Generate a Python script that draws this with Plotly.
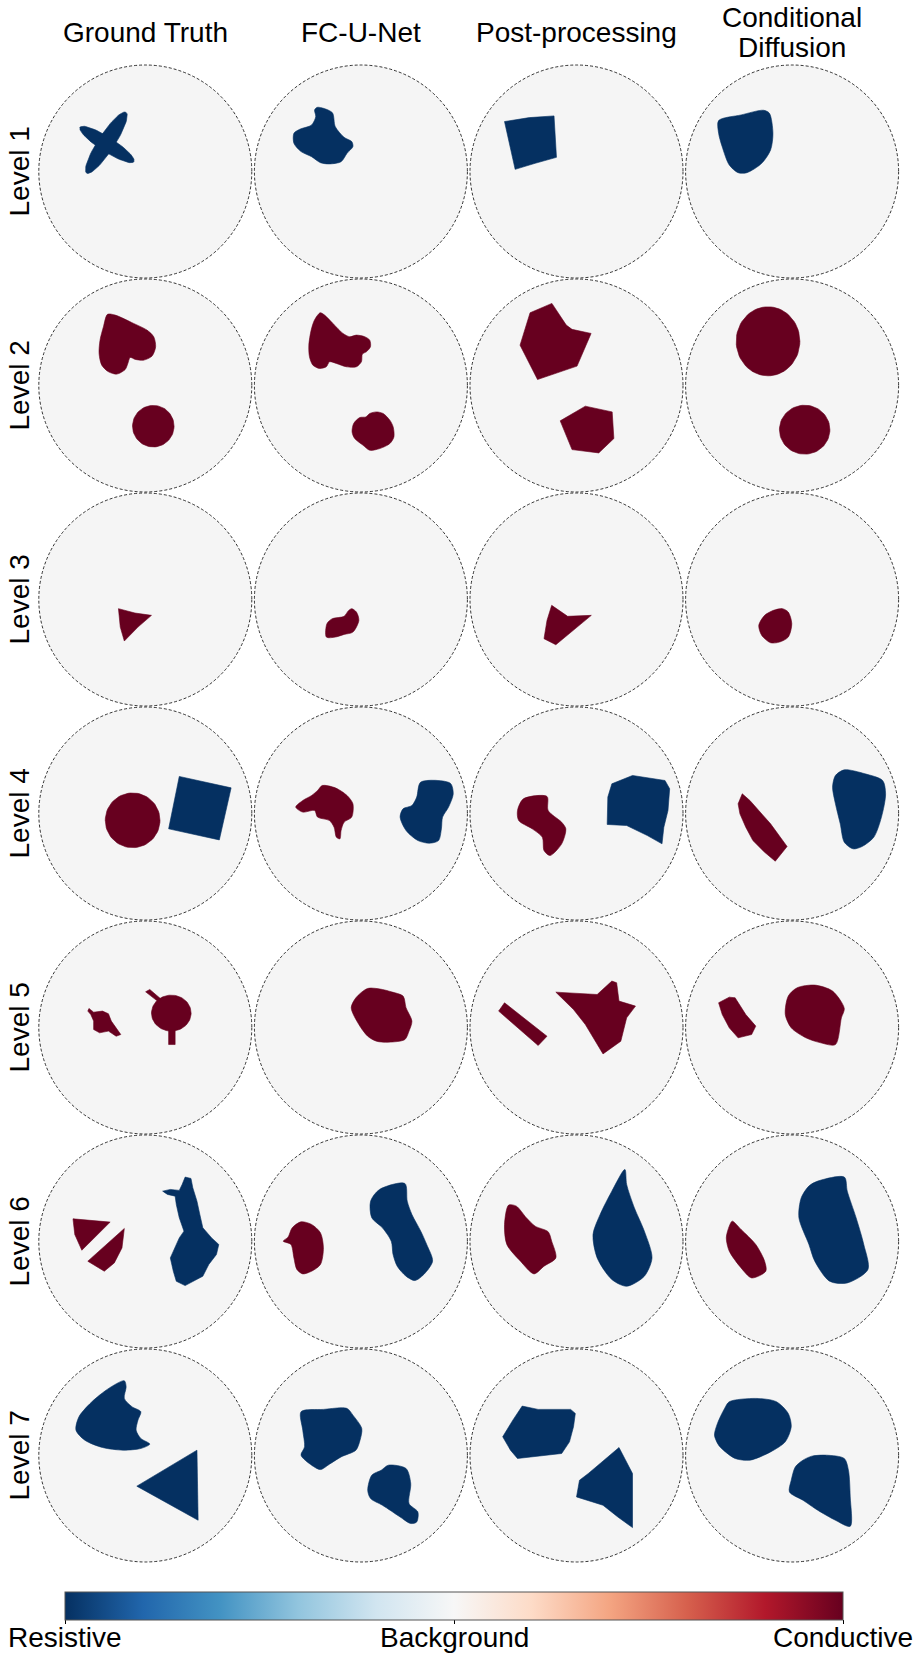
import numpy as np
import plotly.graph_objects as go

# ---------------- data ----------------
methods = ["Ground Truth", "FC-U-Net", "Post-processing", "Conditional<br>Diffusion"]
levels = ["Level 1", "Level 2", "Level 3", "Level 4", "Level 5", "Level 6", "Level 7"]
cbar_values = [-1, 0, 1]
cbar_labels = ["Resistive", "Background", "Conductive"]
RDBU_R = ["#053061", "#2166ac", "#4393c3", "#92c5de", "#d1e5f0", "#f7f7f7",
          "#fddbc7", "#f4a582", "#d6604d", "#b2182b", "#67001f"]
BACKGROUND = "#f5f5f5"

# inclusions in unit-disk coordinates:
#   ("poly", value, [(u, v), ...])   straight-edged outline
#   ("blob", value, [(u, v), ...])   smooth outline
#   ("ellipse", value, (cu, cv, a, b, angle_deg))
# value -1 = resistive, +1 = conductive
L1_GT = [("ellipse", -1, (-0.36, 0.254, 0.30, 0.068, -32.6)),
         ("ellipse", -1, (-0.366, 0.27, 0.34, 0.078, 57))]
L1_FCU = [("blob", -1, [(-0.407, 0.603), (-0.269, 0.553), (-0.241, 0.422), (-0.158, 0.321), (-0.086, 0.281),
                        (-0.075, 0.234), (-0.130, 0.171), (-0.186, 0.092), (-0.296, 0.071), (-0.380, 0.083),
                        (-0.463, 0.139), (-0.562, 0.187), (-0.629, 0.265), (-0.629, 0.359), (-0.573, 0.397),
                        (-0.463, 0.437), (-0.424, 0.516), (-0.435, 0.578)])]
L1_PP = [("poly", -1, [(-0.676, 0.469), (-0.443, 0.506), (-0.211, 0.522), (-0.188, 0.133), (-0.388, 0.077),
                       (-0.576, 0.020)])]
L1_CD = [("blob", -1, [(-0.690, 0.478), (-0.479, 0.531), (-0.269, 0.575), (-0.213, 0.547), (-0.180, 0.359),
                       (-0.202, 0.202), (-0.285, 0.077), (-0.424, -0.011), (-0.507, -0.011), (-0.590, 0.061),
                       (-0.657, 0.234), (-0.690, 0.359)])]

L2_GT = [("blob", 1, [(-0.355, 0.668), (-0.283, 0.661), (-0.110, 0.583), (0.016, 0.520), (0.079, 0.458),
                      (0.097, 0.364), (0.063, 0.276), (-0.016, 0.238), (-0.094, 0.245), (-0.142, 0.263),
                      (-0.164, 0.207), (-0.189, 0.150), (-0.267, 0.107), (-0.346, 0.129), (-0.409, 0.191),
                      (-0.434, 0.301), (-0.425, 0.426), (-0.393, 0.552)]),
         ("ellipse", 1, (0.075, -0.382, 0.195, 0.195, 0))]
L2_FCU = [("blob", 1, [(-0.382, 0.683), (-0.341, 0.661), (-0.263, 0.583), (-0.168, 0.489), (-0.105, 0.458),
                       (-0.042, 0.473), (0.036, 0.458), (0.083, 0.426), (0.090, 0.364), (0.052, 0.317),
                       (0.014, 0.295), (0.005, 0.223), (-0.042, 0.176), (-0.137, 0.176), (-0.231, 0.207),
                       (-0.294, 0.223), (-0.325, 0.176), (-0.388, 0.160), (-0.451, 0.191), (-0.483, 0.270),
                       (-0.489, 0.379), (-0.467, 0.520), (-0.436, 0.614)]),
          ("blob", 1, [(0.146, -0.248), (0.209, -0.263), (0.272, -0.326), (0.303, -0.389), (0.310, -0.483),
                       (0.272, -0.545), (0.178, -0.592), (0.083, -0.608), (0.020, -0.561), (-0.058, -0.498),
                       (-0.083, -0.436), (-0.068, -0.357), (-0.011, -0.301), (0.046, -0.295), (0.083, -0.263)])]
L2_PP = [("poly", 1, [(-0.436, 0.683), (-0.231, 0.771), (-0.096, 0.567), (-0.042, 0.527), (0.137, 0.489),
                      (0.005, 0.182), (-0.366, 0.056), (-0.530, 0.379)]),
         ("poly", 1, [(-0.153, -0.332), (0.083, -0.194), (0.335, -0.248), (0.351, -0.498), (0.209, -0.633),
                      (-0.042, -0.602)])]
L2_CD = [("ellipse", 1, (-0.226, 0.415, 0.299, 0.324, 0)),
         ("ellipse", 1, (0.118, -0.415, 0.237, 0.230, 0))]

L3_GT = [("poly", 1, [(-0.252, -0.086), (-0.097, -0.127), (0.058, -0.149), (-0.069, -0.259), (-0.197, -0.390),
                      (-0.235, -0.259)])]
L3_FCU = [("blob", 1, [(-0.086, -0.086), (-0.042, -0.118), (-0.019, -0.196), (-0.075, -0.306), (-0.158, -0.328),
                       (-0.241, -0.353), (-0.324, -0.353), (-0.319, -0.227), (-0.269, -0.180), (-0.158, -0.158),
                       (-0.119, -0.107)])]
L3_PP = [("poly", 1, [(-0.233, -0.055), (-0.166, -0.102), (-0.083, -0.158), (0.139, -0.149), (-0.028, -0.290),
                      (-0.194, -0.425), (-0.305, -0.368), (-0.277, -0.196)])]
L3_CD = [("blob", 1, [(-0.091, -0.086), (-0.036, -0.118), (-0.003, -0.227), (-0.036, -0.353), (-0.119, -0.400),
                      (-0.202, -0.406), (-0.285, -0.337), (-0.313, -0.243), (-0.258, -0.149), (-0.175, -0.102)])]

L4_GT = [("ellipse", 1, (-0.119, -0.064, 0.257, 0.257, 0)),
         ("poly", -1, [(0.319, 0.348), (0.806, 0.241), (0.695, -0.248), (0.219, -0.144)])]
L4_FCU = [("blob", 1, [(-0.363, 0.263), (-0.241, 0.241), (-0.130, 0.169), (-0.075, 0.091), (-0.086, -0.034),
                       (-0.158, -0.082), (-0.186, -0.160), (-0.197, -0.238), (-0.230, -0.223), (-0.252, -0.129),
                       (-0.296, -0.066), (-0.407, -0.034), (-0.435, 0.028), (-0.546, 0.013), (-0.612, 0.060),
                       (-0.546, 0.122), (-0.463, 0.169), (-0.407, 0.216)]),
          ("blob", -1, [(0.562, 0.295), (0.839, 0.285), (0.867, 0.185), (0.823, 0.060), (0.767, -0.034),
                        (0.756, -0.144), (0.729, -0.254), (0.645, -0.279), (0.535, -0.254), (0.424, -0.160),
                        (0.368, -0.034), (0.396, 0.044), (0.479, 0.075), (0.524, 0.154)])]
L4_PP = [("blob", 1, [(-0.499, 0.138), (-0.277, 0.160), (-0.266, 0.028), (-0.139, -0.082), (-0.100, -0.144),
                      (-0.139, -0.285), (-0.249, -0.395), (-0.305, -0.348), (-0.321, -0.223), (-0.416, -0.144),
                      (-0.543, -0.066), (-0.554, 0.028)]),
         ("poly", -1, [(0.332, 0.279), (0.526, 0.357), (0.831, 0.310), (0.875, 0.232), (0.859, 0.028),
                       (0.820, -0.129), (0.803, -0.285), (0.665, -0.207), (0.471, -0.113), (0.288, -0.103),
                       (0.294, 0.154)])]
L4_CD = [("poly", 1, [(-0.468, 0.185), (-0.396, 0.122), (-0.313, 0.028), (-0.202, -0.097), (-0.047, -0.310),
                      (-0.158, -0.448), (-0.258, -0.364), (-0.368, -0.254), (-0.435, -0.129), (-0.490, -0.003),
                      (-0.507, 0.091)]),
         ("blob", -1, [(0.490, 0.410), (0.684, 0.373), (0.850, 0.310), (0.878, 0.185), (0.839, -0.034),
                       (0.767, -0.223), (0.657, -0.310), (0.573, -0.332), (0.490, -0.270), (0.452, -0.097),
                       (0.407, 0.091), (0.380, 0.248), (0.407, 0.357)])]

L5_GT = [("poly", 1, [(-0.529, 0.179), (-0.485, 0.144), (-0.402, 0.154), (-0.346, 0.129), (-0.319, 0.060),
                      (-0.263, -0.019), (-0.230, -0.066), (-0.274, -0.082), (-0.346, -0.034), (-0.429, -0.050),
                      (-0.485, -0.019), (-0.485, 0.060), (-0.512, 0.122), (-0.540, 0.154)]),
         ("ellipse", 1, (0.244, 0.135, 0.186, 0.169, 0)),
         ("poly", 1, [(0.003, 0.335), (0.042, 0.357), (0.152, 0.263), (0.114, 0.248)]),
         ("poly", 1, [(0.219, -0.019), (0.280, -0.019), (0.280, -0.160), (0.219, -0.160)])]
L5_FCU = [("blob", 1, [(0.064, 0.367), (0.202, 0.357), (0.285, 0.335), (0.396, 0.295), (0.424, 0.185),
                       (0.479, 0.060), (0.452, -0.034), (0.413, -0.113), (0.258, -0.138), (0.147, -0.129),
                       (0.064, -0.082), (-0.019, 0.028), (-0.091, 0.185), (-0.047, 0.279)])]
L5_PP = [("poly", 1, [(-0.731, 0.154), (-0.676, 0.232), (-0.277, -0.082), (-0.360, -0.169)]),
         ("poly", 1, [(-0.194, 0.332), (0.194, 0.310), (0.332, 0.436), (0.377, 0.420), (0.399, 0.248),
                      (0.554, 0.201), (0.471, 0.091), (0.416, -0.129), (0.249, -0.248), (0.194, -0.160),
                      (0.083, 0.028), (-0.028, 0.169)])]
L5_CD = [("poly", 1, [(-0.690, 0.232), (-0.590, 0.285), (-0.535, 0.279), (-0.435, 0.122), (-0.341, 0.013),
                      (-0.380, -0.066), (-0.507, -0.097), (-0.590, -0.003), (-0.656, 0.122)]),
         ("blob", 1, [(0.047, 0.373), (0.213, 0.398), (0.380, 0.342), (0.490, 0.179), (0.463, 0.091),
                      (0.407, -0.160), (0.269, -0.144), (0.130, -0.097), (-0.008, -0.003), (-0.064, 0.122),
                      (-0.036, 0.295)])]

L6_GT = [("poly", 1, [(-0.679, 0.213), (-0.485, 0.197), (-0.330, 0.182), (-0.596, -0.082), (-0.662, 0.066)]),
         ("poly", 1, [(-0.197, 0.122), (-0.219, -0.060), (-0.291, -0.201), (-0.385, -0.279), (-0.540, -0.185)]),
         ("poly", -1, [(0.374, 0.605), (0.429, 0.592), (0.446, 0.505), (0.485, 0.379), (0.512, 0.254),
                       (0.540, 0.129), (0.623, 0.034), (0.690, -0.028), (0.668, -0.122), (0.596, -0.216),
                       (0.540, -0.326), (0.374, -0.414), (0.291, -0.373), (0.263, -0.279), (0.235, -0.154),
                       (0.280, -0.060), (0.319, 0.034), (0.363, 0.097), (0.319, 0.223), (0.291, 0.348),
                       (0.280, 0.426), (0.208, 0.442), (0.163, 0.473), (0.235, 0.489), (0.319, 0.480),
                       (0.346, 0.536)])]
L6_FCU = [("blob", 1, [(-0.562, 0.185), (-0.463, 0.160), (-0.380, 0.082), (-0.352, -0.060), (-0.380, -0.216),
                       (-0.463, -0.279), (-0.546, -0.304), (-0.601, -0.263), (-0.629, -0.154), (-0.657, -0.028),
                       (-0.729, 0.003), (-0.684, 0.041), (-0.645, 0.129)]),
          ("blob", -1, [(0.413, 0.545), (0.435, 0.379), (0.479, 0.254), (0.562, 0.097), (0.618, -0.028),
                        (0.673, -0.185), (0.590, -0.310), (0.507, -0.367), (0.424, -0.326), (0.341, -0.232),
                        (0.302, -0.122), (0.285, 0.003), (0.202, 0.129), (0.102, 0.223), (0.091, 0.379),
                        (0.175, 0.489)])]
L6_PP = [("blob", 1, [(-0.637, 0.342), (-0.565, 0.332), (-0.471, 0.223), (-0.388, 0.144), (-0.266, 0.091),
                      (-0.233, 0.003), (-0.194, -0.154), (-0.305, -0.232), (-0.399, -0.304), (-0.526, -0.185),
                      (-0.654, -0.028), (-0.676, 0.160)]),
         ("blob", -1, [(0.454, 0.677), (0.471, 0.536), (0.543, 0.317), (0.637, 0.097), (0.709, -0.154),
                       (0.637, -0.326), (0.471, -0.420), (0.332, -0.357), (0.194, -0.154), (0.155, 0.066),
                       (0.222, 0.254), (0.332, 0.473)])]
L6_CD = [("blob", 1, [(-0.562, 0.191), (-0.479, 0.113), (-0.341, -0.028), (-0.258, -0.185), (-0.247, -0.279),
                      (-0.380, -0.342), (-0.479, -0.248), (-0.590, -0.091), (-0.618, 0.034), (-0.590, 0.144)]),
         ("blob", -1, [(0.241, 0.567), (0.490, 0.605), (0.518, 0.473), (0.601, 0.223), (0.673, -0.028),
                       (0.712, -0.263), (0.518, -0.389), (0.352, -0.373), (0.213, -0.185), (0.158, -0.028),
                       (0.064, 0.223), (0.086, 0.411), (0.158, 0.521)])]

L7_GT = [("blob", -1, [(-0.197, 0.702), (-0.180, 0.646), (-0.197, 0.536), (-0.125, 0.458), (-0.042, 0.411),
                       (-0.069, 0.332), (-0.086, 0.238), (-0.042, 0.160), (0.042, 0.107), (-0.042, 0.066),
                       (-0.208, 0.050), (-0.402, 0.075), (-0.568, 0.144), (-0.651, 0.238), (-0.623, 0.364),
                       (-0.485, 0.520), (-0.319, 0.646)]),
         ("poly", -1, [(0.485, 0.050), (0.496, -0.608), (-0.080, -0.288)])]
L7_FCU = [("blob", -1, [(-0.562, 0.411), (-0.352, 0.433), (-0.130, 0.442), (-0.075, 0.379), (0.008, 0.254),
                        (-0.008, 0.144), (-0.047, 0.050), (-0.186, -0.013), (-0.296, -0.082), (-0.380, -0.132),
                        (-0.463, -0.091), (-0.562, 0.003), (-0.529, 0.082), (-0.546, 0.238)]),
          ("blob", -1, [(0.258, -0.091), (0.424, -0.122), (0.468, -0.263), (0.452, -0.451), (0.535, -0.530),
                        (0.524, -0.624), (0.468, -0.639), (0.368, -0.577), (0.202, -0.467), (0.091, -0.404),
                        (0.064, -0.326), (0.102, -0.185), (0.191, -0.138)])]
L7_PP = [("poly", -1, [(-0.510, 0.464), (-0.360, 0.433), (-0.055, 0.433), (-0.011, 0.395), (-0.028, 0.270),
                       (-0.066, 0.128), (-0.139, 0.019), (-0.554, -0.028), (-0.620, 0.050), (-0.693, 0.176),
                       (-0.598, 0.332)]),
         ("poly", -1, [(0.399, 0.075), (0.443, -0.013), (0.526, -0.169), (0.526, -0.677), (0.388, -0.577),
                       (0.249, -0.467), (0.000, -0.389), (0.028, -0.232), (0.111, -0.169), (0.222, -0.075)])]
L7_CD = [("blob", -1, [(-0.590, 0.505), (-0.341, 0.536), (-0.147, 0.505), (-0.036, 0.395), (-0.008, 0.270),
                       (-0.064, 0.129), (-0.202, 0.034), (-0.396, -0.044), (-0.535, -0.028), (-0.645, 0.050),
                       (-0.690, 0.097), (-0.729, 0.191), (-0.701, 0.301), (-0.634, 0.442)]),
         ("blob", -1, [(0.186, -0.006), (0.324, 0.003), (0.490, -0.028), (0.529, -0.138), (0.546, -0.389),
                       (0.546, -0.665), (0.407, -0.608), (0.241, -0.514), (0.102, -0.420), (-0.025, -0.342),
                       (-0.008, -0.232), (0.030, -0.107), (0.102, -0.044)])]

panels = [
    [L1_GT, L1_FCU, L1_PP, L1_CD],
    [L2_GT, L2_FCU, L2_PP, L2_CD],
    [L3_GT, L3_FCU, L3_PP, L3_CD],
    [L4_GT, L4_FCU, L4_PP, L4_CD],
    [L5_GT, L5_FCU, L5_PP, L5_CD],
    [L6_GT, L6_FCU, L6_PP, L6_CD],
    [L7_GT, L7_FCU, L7_PP, L7_CD],
]

# ---------------- layout geometry (pixels) ----------------
W, H = 922, 1661
R = 106.5
PAD = 1.03
COL0, COL_STEP = 145.3, 215.6
ROW0, ROW_STEP = 171.5, 214.0
TITLE_MID, TITLE_LINE = 32, 30
FONT = "Liberation Sans, Arial, Helvetica, sans-serif"


def value_color(v):
    return RDBU_R[0] if v < 0 else RDBU_R[-1]


def outline(kind, params):
    if kind in ("poly", "blob"):
        pts = list(params) + [params[0]]
        return [p[0] for p in pts], [p[1] for p in pts]
    cu, cv, a, b, ang = params
    t = np.linspace(0, 2 * np.pi, 73)
    th = np.deg2rad(ang)
    xs = cu + a * np.cos(t) * np.cos(th) - b * np.sin(t) * np.sin(th)
    ys = cv + a * np.cos(t) * np.sin(th) + b * np.sin(t) * np.cos(th)
    return xs.tolist(), ys.tolist()


fig = go.Figure()
layout = dict(width=W, height=H, margin=dict(l=0, r=0, t=0, b=0),
              paper_bgcolor="white", plot_bgcolor="rgba(0,0,0,0)", showlegend=False)
shapes = []
annotations = []

n = 0
for r, row in enumerate(panels):
    cy = ROW0 + r * ROW_STEP
    for c, incl in enumerate(row):
        n += 1
        cx = COL0 + c * COL_STEP
        half = R * PAD
        sfx = "" if n == 1 else str(n)
        layout["xaxis" + sfx] = dict(domain=[(cx - half) / W, (cx + half) / W], range=[-PAD, PAD],
                                     visible=False, fixedrange=True, anchor="y" + sfx)
        layout["yaxis" + sfx] = dict(domain=[1 - (cy + half) / H, 1 - (cy - half) / H], range=[-PAD, PAD],
                                     visible=False, fixedrange=True, anchor="x" + sfx)
        shapes.append(dict(type="circle", xref="x" + sfx, yref="y" + sfx, x0=-1, x1=1, y0=-1, y1=1,
                           fillcolor=BACKGROUND, layer="below",
                           line=dict(color="black", width=0.8, dash="3px,2px")))
        for kind, val, params in incl:
            xs, ys = outline(kind, params)
            col = value_color(val)
            fig.add_trace(go.Scatter(x=xs, y=ys, mode="lines", fill="toself", fillcolor=col,
                                     line=dict(color=col, width=0.6,
                                               shape="spline" if kind == "blob" else "linear",
                                               smoothing=0.8),
                                     hoverinfo="skip", xaxis="x" + sfx, yaxis="y" + sfx))

# column titles (multi-line titles stacked around the same middle)
for c, name in enumerate(methods):
    lines = name.split("<br>")
    for i, line in enumerate(lines):
        ymid = TITLE_MID + (i - (len(lines) - 1) / 2) * TITLE_LINE
        annotations.append(dict(text=line, x=(COL0 + c * COL_STEP) / W, y=1 - ymid / H,
                                xref="paper", yref="paper", showarrow=False,
                                xanchor="center", yanchor="middle",
                                font=dict(family=FONT, size=28, color="black")))
# row labels
for r, name in enumerate(levels):
    annotations.append(dict(text=name, x=19 / W, y=1 - (ROW0 + r * ROW_STEP) / H, xref="paper", yref="paper",
                            showarrow=False, textangle=-90, xanchor="center", yanchor="middle",
                            font=dict(family=FONT, size=28, color="black")))

# colour bar
cb_left, cb_right, cb_top, cb_thick = 65, 843, 1592, 28
fig.add_trace(go.Scatter(x=[0, 0], y=[0, 0], mode="markers", hoverinfo="skip",
                         marker=dict(size=0.1, opacity=0, color=[cbar_values[0], cbar_values[-1]],
                                     coloraxis="coloraxis")))
layout["coloraxis"] = dict(
    cmin=cbar_values[0], cmax=cbar_values[-1],
    colorscale=[[i / (len(RDBU_R) - 1), col] for i, col in enumerate(RDBU_R)],
    colorbar=dict(orientation="h", x=(cb_left + cb_right) / 2 / W, xanchor="center",
                  len=(cb_right - cb_left) / W, lenmode="fraction",
                  y=1 - cb_top / H, yanchor="top", thickness=cb_thick, thicknessmode="pixels",
                  xpad=0, ypad=0, outlinewidth=1, outlinecolor="#555555",
                  tickmode="array", tickvals=cbar_values, ticktext=cbar_labels,
                  ticks="outside", ticklen=4, tickcolor="black", showticklabels=False))
# colour-bar tick labels, placed at the tick positions
for v, lab in zip(cbar_values, cbar_labels):
    xpix = cb_left + (v - cbar_values[0]) / (cbar_values[-1] - cbar_values[0]) * (cb_right - cb_left)
    annotations.append(dict(text=lab, x=xpix / W, y=1 - 1637 / H, xref="paper", yref="paper",
                            showarrow=False, xanchor="center", yanchor="middle",
                            font=dict(family=FONT, size=28, color="black")))
layout["shapes"] = shapes
layout["annotations"] = annotations
fig.update_layout(**layout)
fig.write_html("out.html", config={"displayModeBar": False, "staticPlot": True},
               post_script="document.body.style.margin='0';")
